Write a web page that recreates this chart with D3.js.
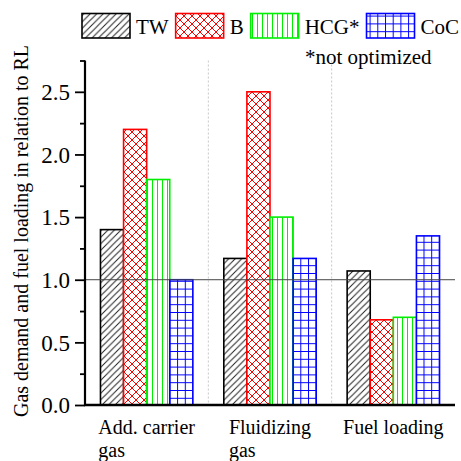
<!DOCTYPE html>
<html>
<head>
<meta charset="utf-8">
<script src="https://cdn.jsdelivr.net/npm/d3@7"></script>
<style>
  body { margin: 0; background: #fff; }
  svg { display: block; }
  svg text { font-family: "Liberation Serif", "DejaVu Serif", serif; fill: #000; }
</style>
</head>
<body>
<svg id="chart" width="461" height="461"></svg>
<script>
// data
var groups = [["Add. carrier", "gas"], ["Fluidizing", "gas"], ["Fuel loading"]];
var seriesNames = ["TW", "B", "HCG*", "CoC"];
var tw  = [1.40, 1.17, 1.07];
var b   = [2.20, 2.50, 0.68];
var hcg = [1.80, 1.50, 0.70];
var coc = [1.00, 1.17, 1.35];
var majorTicks = [0, 0.5, 1.0, 1.5, 2.0, 2.5];
var minorTicks = [0.25, 0.75, 1.25, 1.75, 2.25, 2.75];
var refValue = 1.0;
var note = "*not optimized";
var yTitle = "Gas demand and fuel loading in relation to RL";

var colors = ["#000000", "#ff0000", "#00ee00", "#0000ff"];
var patternIds = ["p-tw", "p-b", "p-hcg", "p-coc"];

var svg = d3.select("#chart");
var plotLeft = 85, plotRight = 455, plotTop = 60.5, plotBottom = 405;

var x = d3.scaleBand()
  .domain(d3.range(groups.length))
  .range([plotLeft, plotRight])
  .padding(0);

var xInner = d3.scaleBand()
  .domain(d3.range(seriesNames.length))
  .range([0, x.bandwidth()])
  .paddingInner(0)
  .paddingOuter(0.67);

var y = d3.scaleLinear()
  .domain([0, 2.75])
  .range([plotBottom, plotTop]);

// hatch patterns
var defs = svg.append("defs");

var p1 = defs.append("pattern").attr("id", "p-tw")
  .attr("patternUnits", "userSpaceOnUse").attr("width", 6.5).attr("height", 6.5);
p1.append("rect").attr("width", 6.5).attr("height", 6.5).attr("fill", "#fff");
p1.append("path").attr("d", "M-1,1 l2,-2 M0,6.5 l6.5,-6.5 M5.5,7.5 l2,-2")
  .attr("stroke", "#222").attr("stroke-width", 1);

var p2 = defs.append("pattern").attr("id", "p-b")
  .attr("patternUnits", "userSpaceOnUse").attr("width", 8).attr("height", 8);
p2.append("rect").attr("width", 8).attr("height", 8).attr("fill", "#fff");
p2.append("path").attr("d", "M0,0 L8,8 M8,0 L0,8")
  .attr("stroke", "#ff0000").attr("stroke-width", 1);

var p3 = defs.append("pattern").attr("id", "p-hcg")
  .attr("patternUnits", "userSpaceOnUse").attr("width", 5).attr("height", 5);
p3.append("rect").attr("width", 5).attr("height", 5).attr("fill", "#fff");
p3.append("path").attr("d", "M2.5,0 L2.5,5")
  .attr("stroke", "#00ee00").attr("stroke-width", 1);

var p4 = defs.append("pattern").attr("id", "p-coc")
  .attr("patternUnits", "userSpaceOnUse").attr("width", 7.7).attr("height", 7.8);
p4.append("rect").attr("width", 7.7).attr("height", 7.8).attr("fill", "#fff");
p4.append("path").attr("d", "M0.5,0 L0.5,7.8 M0,0.5 L7.7,0.5")
  .attr("stroke", "#0000ff").attr("stroke-width", 1);

// dashed group separators
svg.append("g")
  .selectAll("line")
  .data(d3.range(1, groups.length))
  .enter()
  .append("line")
  .attr("x1", function(d) { return x(d); })
  .attr("x2", function(d) { return x(d); })
  .attr("y1", y(2.75))
  .attr("y2", y(0))
  .attr("stroke", "#c8c8c8")
  .attr("stroke-width", 1)
  .attr("stroke-dasharray", "2,2");

// bars
var table = [tw, b, hcg, coc];
var barG = svg.append("g");
table.forEach(function(vals, si) {
  barG.selectAll(".bar" + si)
    .data(vals)
    .enter()
    .append("rect")
    .attr("x", function(d, i) { return x(i) + xInner(si); })
    .attr("y", function(d) { return y(d); })
    .attr("width", xInner.bandwidth())
    .attr("height", function(d) { return y(0) - y(d); })
    .attr("fill", "url(#" + patternIds[si] + ")")
    .attr("stroke", colors[si])
    .attr("stroke-width", 1.6);
});

// reference line at 1
svg.append("line")
  .attr("x1", plotLeft).attr("x2", plotRight)
  .attr("y1", y(refValue)).attr("y2", y(refValue))
  .attr("stroke", "#444").attr("stroke-width", 1);

// y axis
var yAxis = svg.append("g")
  .attr("transform", "translate(" + plotLeft + ",0)")
  .call(d3.axisLeft(y).tickValues(majorTicks).tickSize(10).tickPadding(5)
    .tickFormat(d3.format(".1f")));
yAxis.attr("font-family", null).attr("font-size", null);
yAxis.select(".domain").remove();
yAxis.selectAll(".tick line").attr("stroke-width", 1.8);
yAxis.selectAll("text")
  .attr("dy", "0.34em")
  .style("font-size", "23px");

var yMinor = svg.append("g")
  .attr("transform", "translate(" + plotLeft + ",0)")
  .call(d3.axisLeft(y).tickValues(minorTicks).tickSize(5).tickFormat(""));
yMinor.select(".domain").remove();
yMinor.selectAll(".tick line").attr("stroke-width", 1.8);

svg.append("line")
  .attr("x1", plotLeft).attr("x2", plotLeft)
  .attr("y1", y(0) + 1).attr("y2", y(2.75))
  .attr("stroke", "#000").attr("stroke-width", 2.2);

// x axis line
svg.append("line")
  .attr("x1", plotLeft - 1).attr("x2", plotRight)
  .attr("y1", y(0)).attr("y2", y(0))
  .attr("stroke", "#000").attr("stroke-width", 2.6);

// x labels: first line centred, following lines left aligned to it
groups.forEach(function(lines, i) {
  var t0 = svg.append("text")
    .attr("x", x(i) + x.bandwidth() / 2)
    .attr("y", 434)
    .attr("text-anchor", "middle")
    .style("font-size", "20px")
    .text(lines[0]);
  var w = t0.node().getComputedTextLength();
  var startX = x(i) + x.bandwidth() / 2 - w / 2;
  lines.slice(1).forEach(function(s, k) {
    svg.append("text")
      .attr("x", startX)
      .attr("y", 434 + 23 * (k + 1))
      .style("font-size", "20px")
      .text(s);
  });
});

// y title
svg.append("text")
  .attr("transform", "translate(28," + 231 + ")rotate(-90)")
  .attr("text-anchor", "middle")
  .style("font-size", "20px")
  .text(yTitle);

// legend
var lx = 82;
seriesNames.forEach(function(name, i) {
  svg.append("rect")
    .attr("x", lx).attr("y", 13.5)
    .attr("width", 48).attr("height", 24.5)
    .attr("fill", "url(#" + patternIds[i] + ")")
    .attr("stroke", colors[i])
    .attr("stroke-width", 1.6);
  var t = svg.append("text")
    .attr("x", lx + 54)
    .attr("y", 33.5)
    .style("font-size", "21px")
    .text(name);
  lx = lx + 54 + t.node().getComputedTextLength() + 7;
});

svg.append("text")
  .attr("x", 305)
  .attr("y", 64)
  .style("font-size", "21px")
  .text(note);
</script>
</body>
</html>
